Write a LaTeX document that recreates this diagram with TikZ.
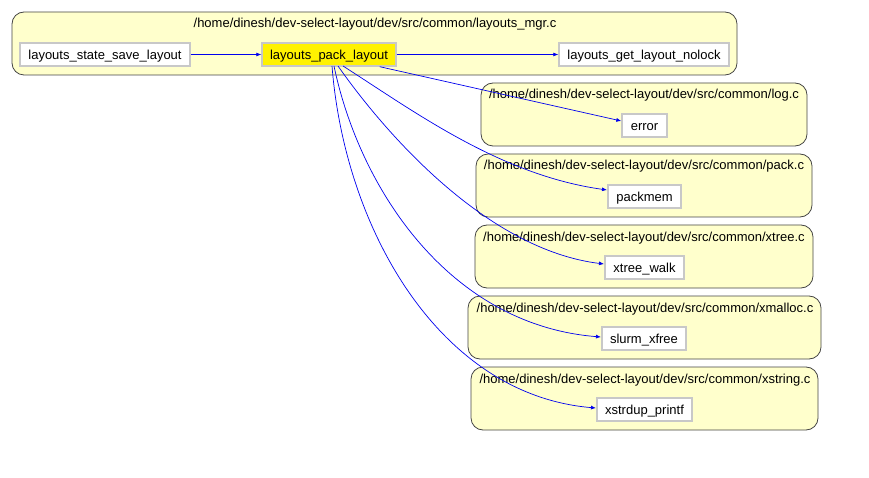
\documentclass[tikz,border=0pt]{standalone}
\usepackage{fontspec}
\setmainfont{Liberation Sans}
\usetikzlibrary{arrows.meta}
\definecolor{clfill}{HTML}{FFFFCC}
\definecolor{clline}{HTML}{444444}
\definecolor{nline}{HTML}{C8C8C8}
\definecolor{edgeblue}{HTML}{0000EE}
\begin{document}
\begin{tikzpicture}[x=1pt,y=-1pt,
  font=\fontsize{13}{15}\selectfont,
  cluster/.style={draw=clline,fill=clfill,rounded corners=12pt,line width=0.8pt},
  ctitle/.style={inner sep=0pt,anchor=center,text height=11.5pt,text depth=1.5pt},
  fn/.style={draw=nline,fill=white,line width=1.4pt,inner sep=0pt,minimum height=23pt,text height=11.5pt,text depth=1.5pt},
  call/.style={edgeblue,line width=0.7pt,-{Latex[length=5pt,width=4pt]}}]
\useasboundingbox (0,0) rectangle (869,478);
% clusters
\draw[cluster] (12,12) rectangle (737,75);
\node[ctitle] (t1) at (375,23) {/home/dinesh/dev-select-layout/dev/src/common/layouts\_mgr.c};
\draw[cluster] (481,83) rectangle (807,146);
\node[ctitle] (t2) at (644,94) {/home/dinesh/dev-select-layout/dev/src/common/log.c};
\draw[cluster] (476,154) rectangle (812,217);
\node[ctitle] (t3) at (644,165) {/home/dinesh/dev-select-layout/dev/src/common/pack.c};
\draw[cluster] (475,225) rectangle (813,288);
\node[ctitle] (t4) at (644,236) {/home/dinesh/dev-select-layout/dev/src/common/xtree.c};
\draw[cluster] (468,296) rectangle (821,359);
\node[ctitle] (t5) at (645,307) {/home/dinesh/dev-select-layout/dev/src/common/xmalloc.c};
\draw[cluster] (471,367) rectangle (818,430);
\node[ctitle] (t6) at (645,378) {/home/dinesh/dev-select-layout/dev/src/common/xstring.c};
% nodes
\node[fn,minimum width=170pt] (save) at (105,54.5) {layouts\_state\_save\_layout};
\node[fn,minimum width=134pt,fill=yellow] (pack) at (329,54.5) {layouts\_pack\_layout};
\node[fn,minimum width=170pt] (get) at (644,54.5) {layouts\_get\_layout\_nolock};
\node[fn,minimum width=45pt] (error) at (644.5,125.5) {error};
\node[fn,minimum width=73pt] (packmem) at (644.5,196.5) {packmem};
\node[fn,minimum width=79pt] (xtree) at (644.5,267.5) {xtree\_walk};
\node[fn,minimum width=84pt] (xfree) at (644,338.5) {slurm\_xfree};
\node[fn,minimum width=95pt] (xstrdup) at (644.5,409.5) {xstrdup\_printf};
% edges
\draw[call] (save) -- (pack);
\draw[call] (pack) -- (get);
\draw[call] (pack.south east) ++(-17,0) coordinate (s1) -- (error.west |- 0,121);
\coordinate (s2) at (343,66);
\coordinate (e2) at (607,190);
\draw[call] (s2) .. controls (415,112) and (500,175) .. (e2);
\coordinate (s3) at (338,66);
\coordinate (e3) at (604,264);
\draw[call] (s3) .. controls (390,140) and (490,250) .. (e3);
\coordinate (s4) at (334,66);
\coordinate (e4) at (601,337);
\draw[call] (s4) .. controls (360,190) and (450,325) .. (e4);
\coordinate (s5) at (332,66);
\coordinate (e5) at (596,408);
\draw[call] (s5) .. controls (345,230) and (440,395) .. (e5);
\end{tikzpicture}
\end{document}
